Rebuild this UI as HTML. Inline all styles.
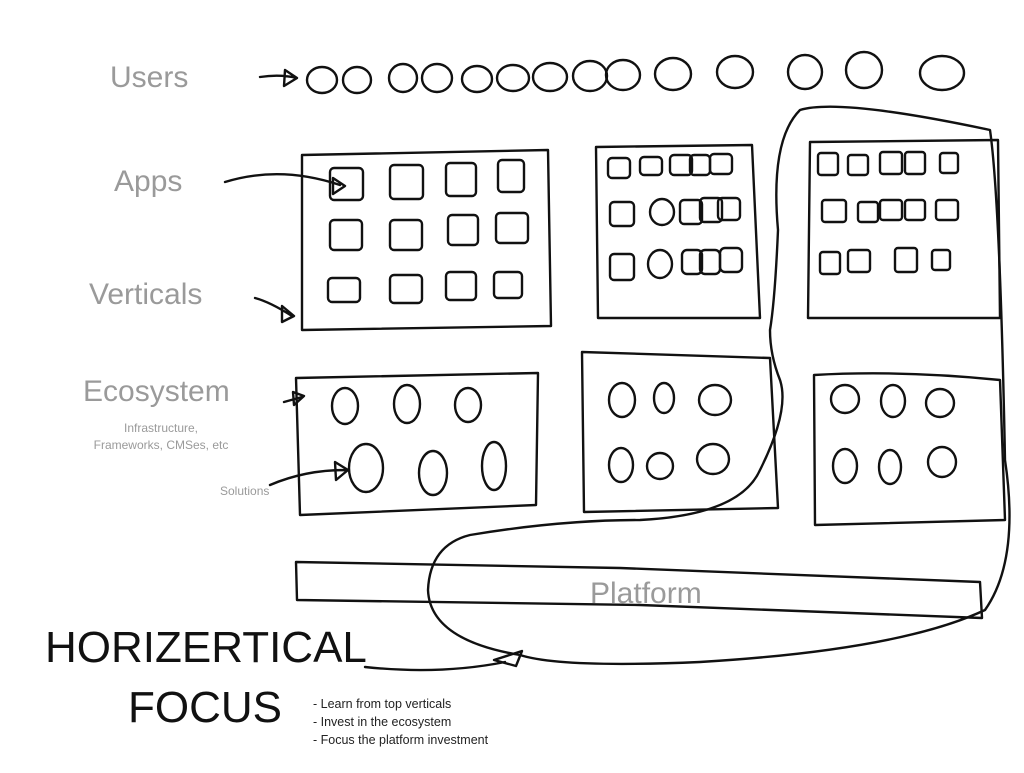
<!DOCTYPE html>
<html><head><style>
body{margin:0;background:#fff;width:1024px;height:768px;overflow:hidden;font-family:"Liberation Sans",sans-serif}
</style></head><body>
<svg width="1024" height="768" viewBox="0 0 1024 768" xmlns="http://www.w3.org/2000/svg" font-family="Liberation Sans, sans-serif">
<g fill="#9a9a9a">
<text x="110" y="87" font-size="30">Users</text>
<text x="114" y="191" font-size="30">Apps</text>
<text x="89" y="304" font-size="30">Verticals</text>
<text x="83" y="401" font-size="30">Ecosystem</text>
<text x="161" y="432" font-size="12" text-anchor="middle">Infrastructure,</text>
<text x="161" y="449" font-size="12" text-anchor="middle">Frameworks, CMSes, etc</text>
<text x="220" y="495" font-size="12">Solutions</text>
<text x="590" y="603" font-size="30">Platform</text>
</g>
<text x="45" y="662" font-size="44" fill="#111">HORIZERTICAL</text>
<text x="128" y="722" font-size="44" fill="#111">FOCUS</text>
<g font-size="12.5" fill="#222">
<text x="313" y="708">- Learn from top verticals</text>
<text x="313" y="726">- Invest in the ecosystem</text>
<text x="313" y="744">- Focus the platform investment</text>
</g>
<g fill="none" stroke="#111" stroke-width="2.4" stroke-linejoin="round" stroke-linecap="round">
<path d="M260 77 Q280 74 297 78 M285 70 L297 78 L284 86 Z"/>
<ellipse cx="322" cy="80" rx="15" ry="13"/><ellipse cx="357" cy="80" rx="14" ry="13"/>
<ellipse cx="403" cy="78" rx="14" ry="14"/><ellipse cx="437" cy="78" rx="15" ry="14"/>
<ellipse cx="477" cy="79" rx="15" ry="13"/><ellipse cx="513" cy="78" rx="16" ry="13"/>
<ellipse cx="550" cy="77" rx="17" ry="14"/><ellipse cx="590" cy="76" rx="17" ry="15"/>
<ellipse cx="623" cy="75" rx="17" ry="15"/><ellipse cx="673" cy="74" rx="18" ry="16"/>
<ellipse cx="735" cy="72" rx="18" ry="16"/><ellipse cx="805" cy="72" rx="17" ry="17"/>
<ellipse cx="864" cy="70" rx="18" ry="18"/><ellipse cx="942" cy="73" rx="22" ry="17"/>
<path d="M225 182 Q280 165 340 185 M333 178 L345 186 L333 194 Z"/>
<path d="M255 298 Q270 302 292 316 M282 306 L294 316 L282 322 Z"/>
<path d="M284 402 L302 397 M293 392 L304 396 L294 405 Z"/>
<path d="M270 485 Q305 470 345 470 M335 462 L348 470 L336 480 Z"/>
<path d="M365 667 Q440 675 505 662 M494 660 L522 651 L516 666 Z"/>
<path d="M302 155 L548 150 L551 326 L302 330 Z"/>
<path d="M596 147 L752 145 L760 318 L598 318 Z"/>
<path d="M810 142 L998 140 L1000 318 L808 318 Z"/>
<g>
<rect x="330" y="168" width="33" height="32" rx="4"/><rect x="390" y="165" width="33" height="34" rx="4"/><rect x="446" y="163" width="30" height="33" rx="4"/><rect x="498" y="160" width="26" height="32" rx="4"/>
<rect x="330" y="220" width="32" height="30" rx="4"/><rect x="390" y="220" width="32" height="30" rx="4"/><rect x="448" y="215" width="30" height="30" rx="4"/><rect x="496" y="213" width="32" height="30" rx="4"/>
<rect x="328" y="278" width="32" height="24" rx="4"/><rect x="390" y="275" width="32" height="28" rx="4"/><rect x="446" y="272" width="30" height="28" rx="4"/><rect x="494" y="272" width="28" height="26" rx="4"/>
<rect x="608" y="158" width="22" height="20" rx="4"/><rect x="640" y="157" width="22" height="18" rx="4"/><rect x="670" y="155" width="22" height="20" rx="4"/><rect x="690" y="155" width="20" height="20" rx="4"/><rect x="710" y="154" width="22" height="20" rx="4"/>
<rect x="610" y="202" width="24" height="24" rx="4"/><ellipse cx="662" cy="212" rx="12" ry="13"/><rect x="680" y="200" width="22" height="24" rx="4"/><rect x="700" y="198" width="22" height="24" rx="4"/><rect x="718" y="198" width="22" height="22" rx="4"/>
<rect x="610" y="254" width="24" height="26" rx="4"/><ellipse cx="660" cy="264" rx="12" ry="14"/><rect x="682" y="250" width="20" height="24" rx="5"/><rect x="700" y="250" width="20" height="24" rx="5"/><rect x="720" y="248" width="22" height="24" rx="5"/>
<rect x="818" y="153" width="20" height="22" rx="3"/><rect x="848" y="155" width="20" height="20" rx="3"/><rect x="880" y="152" width="22" height="22" rx="3"/><rect x="905" y="152" width="20" height="22" rx="3"/><rect x="940" y="153" width="18" height="20" rx="3"/>
<rect x="822" y="200" width="24" height="22" rx="3"/><rect x="858" y="202" width="20" height="20" rx="3"/><rect x="880" y="200" width="22" height="20" rx="3"/><rect x="905" y="200" width="20" height="20" rx="3"/><rect x="936" y="200" width="22" height="20" rx="3"/>
<rect x="820" y="252" width="20" height="22" rx="3"/><rect x="848" y="250" width="22" height="22" rx="3"/><rect x="895" y="248" width="22" height="24" rx="3"/><rect x="932" y="250" width="18" height="20" rx="3"/>
</g>
<path d="M296 378 L538 373 L536 505 L300 515 Z"/>
<path d="M582 352 L770 358 L778 508 L584 512 Z"/>
<path d="M814 375 Q900 370 1000 380 L1005 520 L815 525 Z"/>
<ellipse cx="345" cy="406" rx="13" ry="18"/><ellipse cx="407" cy="404" rx="13" ry="19"/><ellipse cx="468" cy="405" rx="13" ry="17"/>
<ellipse cx="366" cy="468" rx="17" ry="24"/><ellipse cx="433" cy="473" rx="14" ry="22"/><ellipse cx="494" cy="466" rx="12" ry="24"/>
<ellipse cx="622" cy="400" rx="13" ry="17"/><ellipse cx="664" cy="398" rx="10" ry="15"/><ellipse cx="715" cy="400" rx="16" ry="15"/>
<ellipse cx="621" cy="465" rx="12" ry="17"/><ellipse cx="660" cy="466" rx="13" ry="13"/><ellipse cx="713" cy="459" rx="16" ry="15"/>
<ellipse cx="845" cy="399" rx="14" ry="14"/><ellipse cx="893" cy="401" rx="12" ry="16"/><ellipse cx="940" cy="403" rx="14" ry="14"/>
<ellipse cx="845" cy="466" rx="12" ry="17"/><ellipse cx="890" cy="467" rx="11" ry="17"/><ellipse cx="942" cy="462" rx="14" ry="15"/>
<path d="M296 562 L620 568 L980 582 L982 618 L640 605 L297 600 Z"/>
<path d="M770 330 Q775 300 778 230 Q770 140 800 110 Q840 98 990 130 Q1000 200 1005 460 Q1020 560 985 610 Q900 650 700 662 Q560 668 520 655 Q430 640 428 590 Q430 545 470 535 Q560 520 640 520 Q740 515 760 470 Q790 410 780 380 Q770 355 770 330"/>
</g>
</svg>
</body></html>
